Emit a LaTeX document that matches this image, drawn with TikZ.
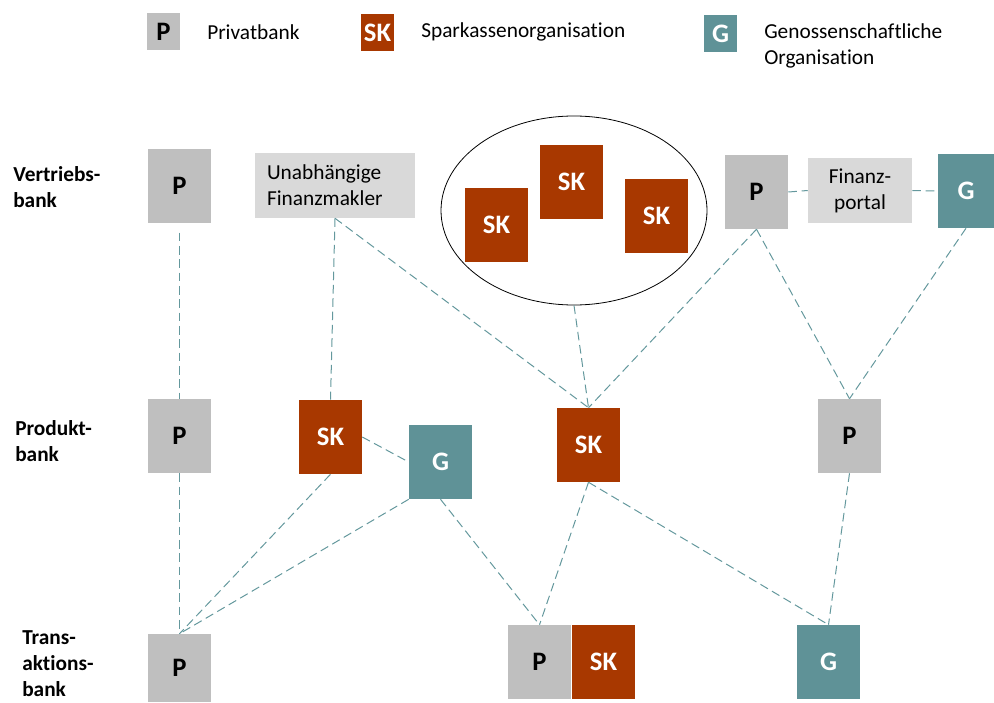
\documentclass[tikz,border=0pt]{standalone}
\usepackage{fontspec}
\setmainfont{Carlito}[Ligatures=NoCommon]
\usetikzlibrary{positioning,shapes}

\definecolor{pgray}{RGB}{191,191,191}
\definecolor{skred}{RGB}{168,56,0}
\definecolor{gteal}{RGB}{95,146,151}
\definecolor{boxgray}{RGB}{217,217,217}
\definecolor{linkteal}{RGB}{100,152,157}

\begin{document}
\begin{tikzpicture}[x=0.75pt,y=-0.75pt,font=\fontsize{16}{19.5}\selectfont]
	\tikzstyle{bank}=[rectangle,minimum width=47.25pt,minimum height=55.5pt,inner sep=0pt,font=\fontsize{20}{24}\selectfont\bfseries]
	\tikzstyle{priv}=[bank, fill=pgray];
	\tikzstyle{spk}=[bank, fill=skred, text=white];
	\tikzstyle{geno}=[bank, fill=gteal, text=white];
	\tikzstyle{legend}=[minimum width=24.75pt,minimum height=27.75pt];

	\tikzstyle{infobox}=[rectangle,fill=boxgray,inner sep=0pt,minimum height=48.75pt]
	\tikzstyle{caption}=[anchor=west,align=left,inner sep=0pt]
	\tikzstyle{rowlabel}=[caption,font=\fontsize{16}{19.5}\selectfont\bfseries]
	\tikzstyle{link}=[draw=linkteal,line width=0.75pt,dash pattern=on 6.5pt off 3.5pt]

	\useasboundingbox (0,0) rectangle (994,702);

	%legend
	\node[priv,legend] (legP) at (163.5,32) {P};
	\node[caption] (legPText) at (207,32) {Privatbank};
	\node[spk,legend] (legSK) at (377.5,32.5) {SK};
	\node[caption] (legSKText) at (421,32) {Sparkassenorganisation};
	\node[geno,legend] (legG) at (720.5,33.5) {G};
	\node[caption] (legGText) at (764,46) {Genossenschaftliche\\Organisation};

	%row labels
	\node[rowlabel] (rowV) at (13,187) {Vertriebs-\\bank};
	\node[rowlabel] (rowP) at (15,441) {Produkt-\\bank};
	\node[rowlabel] (rowT) at (22,664) {Trans-\\aktions-\\bank};

	%vertriebsbank
	\node[priv] (vP) at (179.5,186) {P};
	\node[infobox,text width=102pt,inner xsep=9pt,align=left] (vMakler) at (335,185.5) {Unabhängige\\Finanzmakler};
	\node[ellipse,draw=black,line width=0.6pt,minimum width=199.5pt,minimum height=141.75pt] (vOval) at (574,210.5) {};
	\node[spk] (vSK1) at (496.5,225) {SK};
	\node[spk] (vSK2) at (571.5,182) {SK};
	\node[spk] (vSK3) at (656.5,216) {SK};
	\node[priv] (vP2) at (756.5,192) {P};
	\node[infobox,minimum width=78pt,align=center] (vPortal) at (860,190.5) {Finanz-\\portal};
	\node[geno,minimum width=42pt] (vG) at (966,191) {G};
	\draw[link] (vP2.east) -- (vPortal.west);
	\draw[link] (vPortal.east) -- (vG.west);

	%produktbank
	\node[priv] (pP) at (179.5,436) {P};
	\node[spk] (pSK) at (330.5,437) {SK};
	\node[geno] (pG) at (440.5,462) {G};
	\node[spk] (pSKm) at (588.5,445) {SK};
	\node[priv] (pP2) at (849.5,436) {P};
	\draw[link,shorten <=7pt] (vP.south) -- (pP.north);
	\draw[link] (vMakler.south) -- (pSK.north);
	\draw[link] (vMakler.south) -- (pSKm.north);
	\draw[link] (vOval.south) -- (pSKm.north);
	\draw[link] (vP2.south) -- (pSKm.north);
	\draw[link] (vP2.south) -- (pP2.north);
	\draw[link] (vG.south) -- (pP2.north);
	\draw[link] (pSK.east) -- (pG.west);

	%transaktionsbank
	\node[priv,minimum height=51pt] (tP) at (179.5,668) {P};
	\node[priv] (tP2) at (539.5,662) {P};
	\node[spk] (tSK) at (603.5,662) {SK};
	\node[geno] (tG) at (828.5,662) {G};
	\draw[link] (pP.south) -- (tP.north);
	\draw[link] (pSK.south) -- (tP.north);
	\draw[link] (pG.south west) -- (tP.north);
	\draw[link] (pG.south) -- (tP2.north);
	\draw[link] (pSKm.south) -- (tP2.north);
	\draw[link] (pSKm.south) -- (tG.north);
	\draw[link] (pP2.south) -- (tG.north);

\end{tikzpicture}
\end{document}
